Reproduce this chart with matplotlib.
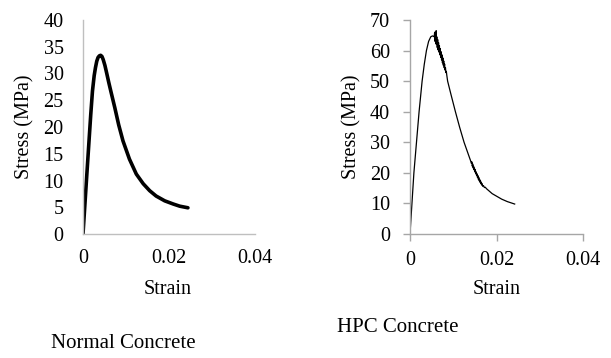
import matplotlib
matplotlib.use("Agg")
import matplotlib.pyplot as plt

plt.rcParams['font.family'] = ['Liberation Serif', 'DejaVu Serif']

# Normal concrete stress-strain (strain, MPa)
nc_strain = [0, 0.0008, 0.0014, 0.0018, 0.0022, 0.0026, 0.0029, 0.0032, 0.0035,
             0.0038, 0.0041, 0.0044, 0.0047, 0.0051, 0.0055, 0.006, 0.0065,
             0.0074, 0.0083, 0.0093, 0.0108, 0.0124, 0.014, 0.0155, 0.017,
             0.019, 0.021, 0.0225, 0.0244]
nc_stress = [0, 10, 17.4, 22.3, 26.7, 29.6, 31.1, 32.3, 33.0,
             33.3, 33.4, 33.2, 32.6, 31.5, 30.1, 28.3, 26.6,
             23.6, 20.4, 17.4, 14.0, 11.2, 9.4, 8.1, 7.1,
             6.2, 5.6, 5.2, 4.9]

# HPC concrete stress-strain (strain, MPa)
hpc_strain = [0, 0.0009, 0.0015, 0.0021, 0.0028, 0.0033, 0.0038, 0.0043, 0.0048,
              0.0052, 0.0055,
              0.0056, 0.0057, 0.0058, 0.0059, 0.0060, 0.00605, 0.0061, 0.0062,
              0.0063, 0.0064, 0.0065, 0.0066, 0.0067, 0.0068, 0.0069, 0.0070,
              0.0071, 0.0072, 0.0073, 0.0074, 0.0075, 0.0076, 0.0077, 0.0078,
              0.0079, 0.0080, 0.0081, 0.0082, 0.0083, 0.0084, 0.0085,
              0.0087, 0.0095, 0.0105, 0.0115, 0.0125, 0.0133,
              0.0140, 0.0142, 0.0143, 0.0144, 0.0145, 0.0146, 0.0147, 0.0148,
              0.0149, 0.0150, 0.0151, 0.0152, 0.0153, 0.0154, 0.0155, 0.0156,
              0.0157, 0.0158, 0.0159, 0.0160, 0.0161, 0.0162, 0.0163, 0.0164,
              0.0165, 0.0166, 0.0167, 0.0168, 0.0170, 0.0172, 0.0174, 0.0177,
              0.019, 0.0212, 0.0225, 0.0242]
hpc_stress = [0, 20, 30, 40, 50, 55.5, 60, 63, 64.5,
              64.8, 64.6,
              64.5, 66.0, 63.0, 65.8, 62.3, 66.5, 62.0, 64.5,
              61.0, 63.6, 60.2, 62.6, 59.5, 61.6, 58.6, 60.6,
              57.8, 59.6, 56.9, 58.6, 56.0, 57.6, 55.2, 56.6,
              54.4, 55.6, 53.6, 54.4, 52.8, 53.2, 52.0,
              50, 45.5, 40, 34.8, 30, 26.8,
              24.0, 23.1, 23.6, 22.2, 22.9, 21.6, 22.2, 21.0,
              21.6, 20.3, 21.0, 19.7, 20.3, 19.1, 19.7, 18.5,
              19.1, 17.9, 18.5, 17.4, 17.9, 16.9, 17.4, 16.4,
              16.9, 16.0, 16.4, 15.6, 15.8, 15.2, 15.3, 14.8,
              13.2, 11.4, 10.6, 9.8]

x_ticks = [0, 0.02, 0.04]
x_ticklabels = ["0", "0.02", "0.04"]

W, H = 611, 358
fig = plt.figure(figsize=(W / 100, H / 100), dpi=100)

fs = 14.5

def style(ax, ylim, ystep, ypad, gray, ticks):
    ax.set_xlim(0, 0.04)
    ax.set_ylim(*ylim)
    ax.set_xticks(x_ticks)
    ax.set_xticklabels(x_ticklabels)
    ax.set_yticks(list(range(ylim[0], ylim[1] + 1, ystep)))
    for s in ["top", "right"]:
        ax.spines[s].set_visible(False)
    for s in ["left", "bottom"]:
        ax.spines[s].set_color(gray)
        ax.spines[s].set_linewidth(1.0)
    tl = 5 if ticks else 0
    ax.tick_params(axis="x", direction="out", length=tl, color=gray, width=1,
                   labelsize=fs, pad=(15 - tl) * 0.72)
    ax.tick_params(axis="y", direction="out", length=tl, color=gray, width=1,
                   labelsize=fs, pad=ypad)

ax1 = fig.add_axes([83 / W, 1 - 234 / H, (255 - 83) / W, (234 - 20) / H])
ax1.plot(nc_strain, nc_stress, color="black", lw=2.6, solid_capstyle="round",
         solid_joinstyle="round")
style(ax1, (0, 40), 5, 14, "#bfbfbf", False)

ax2 = fig.add_axes([410 / W, 1 - 234 / H, (583 - 410) / W, (234 - 20) / H])
ax2.plot(hpc_strain, hpc_stress, color="black", lw=0.9)
style(ax2, (0, 70), 10, 9.5, "#a6a6a6", True)

fig.text(168 / W, 1 - 290 / H, "Strain", ha="center", va="center", fontsize=fs)
fig.text(497 / W, 1 - 290 / H, "Strain", ha="center", va="center", fontsize=fs)
fig.text(25 / W, 1 - 127 / H, "Stress (MPa)", ha="center", va="center",
         rotation=90, fontsize=fs)
fig.text(352 / W, 1 - 127 / H, "Stress (MPa)", ha="center", va="center",
         rotation=90, fontsize=fs)
fig.text(123 / W, 1 - 343 / H, "Normal Concrete", ha="center", va="center",
         fontsize=15)
fig.text(398 / W, 1 - 328 / H, "HPC Concrete", ha="center", va="center",
         fontsize=15)

fig.savefig("out.png", dpi=100)
